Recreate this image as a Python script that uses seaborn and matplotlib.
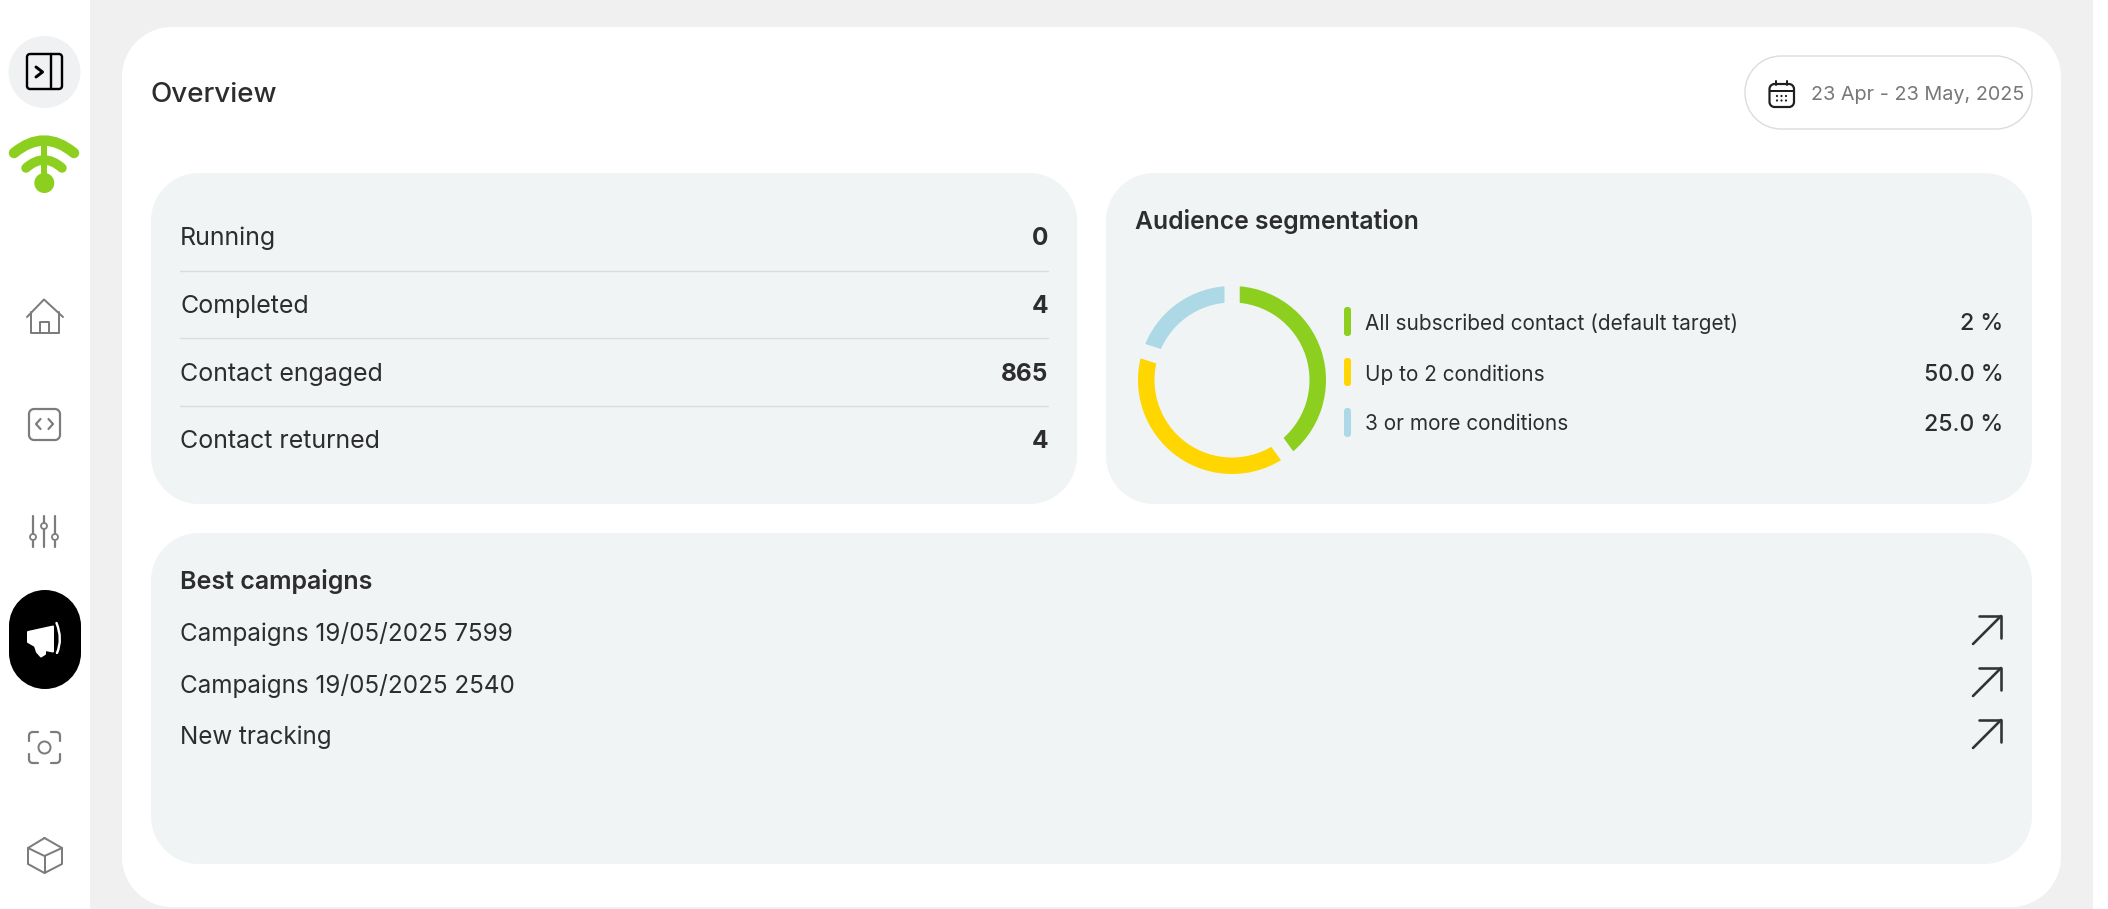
import numpy as np
import matplotlib
matplotlib.use("Agg")
import matplotlib.pyplot as plt
import seaborn as sns
from matplotlib.patches import Circle, PathPatch, Polygon
from matplotlib.path import Path

title = "Overview"
date_range = "23 Apr - 23 May, 2025"
row_labels = ["Running", "Completed", "Contact engaged", "Contact returned"]
row_values = ["0", "4", "865", "4"]
segment_title = "Audience segmentation"
segment_labels = ["All subscribed contact (default target)", "Up to 2 conditions", "3 or more conditions"]
segment_percents = ["2 %", "50.0 %", "25.0 %"]
ring_values = [50, 50, 25]
best_title = "Best campaigns"
campaigns = ["Campaigns 19/05/2025 7599", "Campaigns 19/05/2025 2540", "New tracking"]

GREEN, YELLOW, BLUE = sns.color_palette(["#8ccf1e", "#ffd600", "#add8e6"])
PANEL = "#f0f4f5"
BG = "#f0f0f0"
INK = "#2d2d2d"
ICON = "#7c7c7c"

sns.set_theme(style="white")
plt.rcParams["font.family"] = ["Inter", "DejaVu Sans"]

W, H = 2108, 909
fig = plt.figure(figsize=(W / 100, H / 100), dpi=100, facecolor="white")
ax = fig.add_axes([0, 0, 1, 1])
ax.set_xlim(0, W)
ax.set_ylim(H, 0)
ax.axis("off")


def pt(px):
    return px * 0.72


def rbox(x0, y0, x1, y1, r, fc, ec="none", lw=0, z=1):
    k = 0.5523 * r
    verts = [(x0 + r, y0), (x1 - r, y0),
             (x1 - r + k, y0), (x1, y0 + r - k), (x1, y0 + r), (x1, y1 - r),
             (x1, y1 - r + k), (x1 - r + k, y1), (x1 - r, y1), (x0 + r, y1),
             (x0 + r - k, y1), (x0, y1 - r + k), (x0, y1 - r), (x0, y0 + r),
             (x0, y0 + r - k), (x0 + r - k, y0), (x0 + r, y0), (x0 + r, y0)]
    C, L = Path.CURVE4, Path.LINETO
    codes = [Path.MOVETO, L, C, C, C, L, C, C, C, L, C, C, C, L, C, C, C, Path.CLOSEPOLY]
    ax.add_patch(PathPatch(Path(verts, codes), fc=fc, ec=ec, lw=pt(lw), zorder=z))


def stroke(pts, color=ICON, lw=2.2, z=5, closed=False, cap="round"):
    xs, ys = zip(*pts)
    if closed:
        xs, ys = xs + (xs[0],), ys + (ys[0],)
    ax.plot(xs, ys, color=color, lw=pt(lw), solid_capstyle=cap, solid_joinstyle="round", zorder=z)


def curve(p0, c, p1, color, lw, z=5):
    path = Path([p0, c, p1], [Path.MOVETO, Path.CURVE3, Path.CURVE3])
    ax.add_patch(PathPatch(path, fc="none", ec=color, lw=pt(lw), capstyle="round", zorder=z))


def label(x, y, s, size, weight="normal", color=INK, ha="left"):
    ax.text(x, y, s, fontsize=pt(size), fontweight=weight, color=color, ha=ha, va="center_baseline", zorder=6)


# page background and cards
ax.add_patch(plt.Rectangle((90, 0), 2003, H, fc=BG, ec="none", zorder=0))
rbox(122, 27, 2061, 907, 50, "white")
rbox(151, 173, 1077, 504, 48, PANEL, z=2)
rbox(1106, 173, 2032, 504, 48, PANEL, z=2)
rbox(151, 533, 2032, 864, 48, PANEL, z=2)

# header
label(151, 92.5, title, 27.8, weight="medium")
rbox(1745, 56, 2032, 129, 36, "white", ec="#dcdcdc", lw=1.4, z=3)
label(1811, 93, date_range, 19.8, color="#777777")
rbox(1769.5, 84, 1794, 107, 5, "none", ec="#1f1f1f", lw=2.2, z=5)
stroke([(1770, 91), (1794, 91)], "#1f1f1f", 2)
stroke([(1776, 80.5), (1776, 85)], "#1f1f1f", 2)
stroke([(1787, 80.5), (1787, 85)], "#1f1f1f", 2)
for dx in (1777, 1781.5, 1786):
    for dy in (96, 100.5):
        ax.add_patch(Circle((dx, dy), 1.1, fc="#1f1f1f", ec="none", zorder=5))

# stats
row_y = [236, 304, 372, 439]
for y, lab, val in zip(row_y, row_labels, row_values):
    label(180, y, lab, 25)
    label(1048.5, y, val, 24.4, weight="bold", ha="right")
for y in (271, 338, 406):
    ax.plot([180, 1048], [y, y], color="#d8dcdd", lw=pt(1.4), zorder=3)

# audience
label(1135, 219, segment_title, 24.7, weight="semibold")
cx, cy, rad, thick, gap = 1232, 380, 94, 16.5, 15
s = 120
inset = fig.add_axes([(cx - s) / W, 1 - (cy + s) / H, 2 * s / W, 2 * s / H], zorder=5)
inset.pie(ring_values, colors=[GREEN, YELLOW, BLUE], startangle=90, counterclock=False,
          radius=rad + gap / 2, wedgeprops=dict(width=thick + gap, edgecolor=PANEL, linewidth=pt(gap)))
inset.set_xlim(-s, s)
inset.set_ylim(-s, s)
inset.set_aspect("equal")
inset.patch.set_alpha(0)
inset.axis("off")

bar_spans = [(307, 336), (358, 386), (408, 437)]
text_y = [321.5, 372.5, 422.5]
for span, col, y, lab, pct in zip(bar_spans, [GREEN, YELLOW, BLUE], text_y, segment_labels, segment_percents):
    rbox(1344, span[0], 1351, span[1], 3, col, z=4)
    label(1365, y, lab, 20.8)
    label(2003.5, y, pct, 23, weight="medium", ha="right")

# best campaigns
label(180, 579, best_title, 25, weight="semibold")
for y, tip, name in zip([632, 683, 735], [616, 668, 720], campaigns):
    label(180, y, name, 24.2)
    stroke([(1973, tip + 28), (2001, tip)], "#333333", 2.6)
    stroke([(1979, tip), (2001, tip), (2001, tip + 22)], "#333333", 2.6)

# sidebar
ax.add_patch(Circle((44.5, 72), 36, fc="#f0f1f3", ec="none", zorder=2))
rbox(27, 54, 62, 89, 3, "none", ec="black", lw=2.4, z=5)
stroke([(51, 54), (51, 89)], "black", 2.4)
stroke([(36, 67), (42.5, 72), (36, 77)], "black", 3)

# logo
curve((14, 153), (44, 128), (74, 153), GREEN, 10.5)
curve((26, 168), (44, 152), (62, 168), GREEN, 9.5)
stroke([(44, 142), (44, 180)], GREEN, 6)
ax.add_patch(Circle((44.3, 183), 10, fc=GREEN, ec="none", zorder=5))

# home
stroke([(27, 317), (44, 299.5), (63, 317)], ICON, 2)
stroke([(31, 312), (31, 333), (59, 333), (59, 312)], ICON, 2)
stroke([(40, 333), (40, 322), (49, 322), (49, 333)], ICON, 2)

# code
rbox(29, 409, 60, 440, 5, "none", ec=ICON, lw=2.2, z=5)
stroke([(40.5, 419), (36, 424), (40.5, 429)], ICON, 2.2)
stroke([(48.5, 419), (53, 424), (48.5, 429)], ICON, 2.2)

# sliders
for x, k in zip((33, 44, 55), (537, 526, 537)):
    stroke([(x, 516), (x, 547)], ICON, 2.2)
    ax.add_patch(Circle((x, k), 3, fc="white", ec=ICON, lw=pt(1.8), zorder=6))

# campaigns (active)
rbox(9, 590, 81, 689, 36, "black", z=2)
ax.add_patch(Polygon([(28, 632), (53, 626.5), (53, 651.5), (45, 650), (45, 654), (41, 656.5), (37, 652),
                      (35, 646), (28, 642)],
                     closed=True, fc="white", ec="white", lw=pt(2), joinstyle="round", zorder=5))
curve((56.5, 623), (63, 639), (57, 653), "white", 2.4)

# scan
for sx, sy in ((29, 732), (60, 732), (29, 763), (60, 763)):
    ix = 1 if sx == 29 else -1
    iy = 1 if sy == 732 else -1
    stroke([(sx + ix * 9, sy), (sx + ix * 4, sy)], ICON, 2.2)
    curve((sx + ix * 4, sy), (sx, sy), (sx, sy + iy * 4), ICON, 2.2)
    stroke([(sx, sy + iy * 4), (sx, sy + iy * 9)], ICON, 2.2)
ax.add_patch(Circle((44.5, 747.5), 6, fc="none", ec=ICON, lw=pt(2), zorder=5))

# cube
hexa = [(44.5, 838), (62, 848), (62, 864), (44.5, 873), (28, 864), (28, 848)]
stroke(hexa, ICON, 2, closed=True)
stroke([(28, 848), (44.5, 856), (62, 848)], ICON, 2)
stroke([(44.5, 856), (44.5, 873)], ICON, 2)

fig.savefig("out.png", dpi=100, facecolor="white")
